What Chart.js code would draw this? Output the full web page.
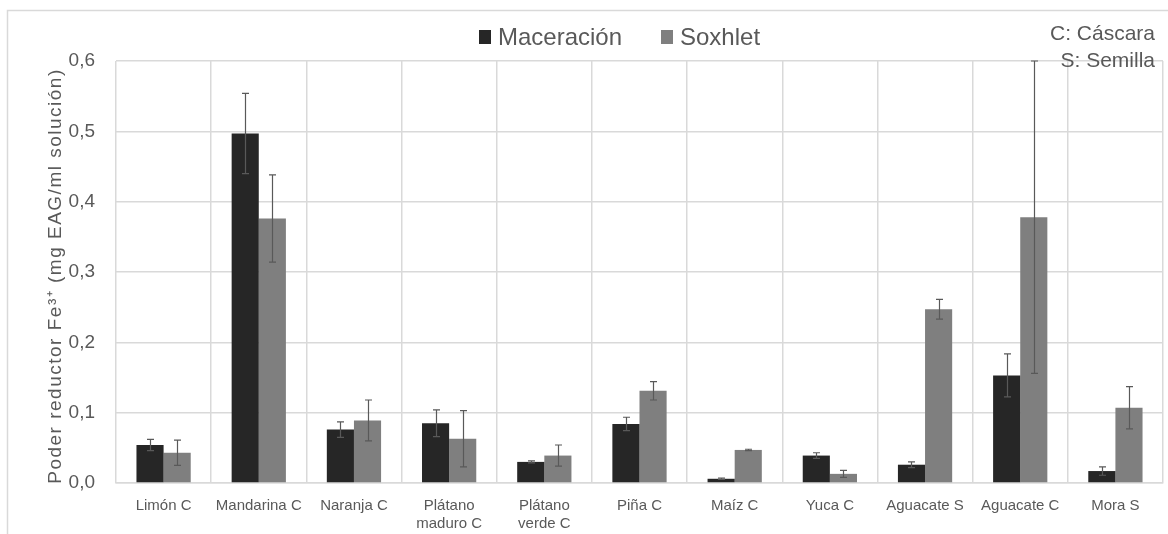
<!DOCTYPE html>
<html>
<head>
<meta charset="utf-8">
<script src="https://cdn.jsdelivr.net/npm/chart.js@4/dist/chart.umd.min.js"></script>
<style>
  html, body { margin: 0; padding: 0; background: #ffffff; }
  #wrap { width: 1168px; height: 534px; position: relative; }
</style>
</head>
<body>
<div id="wrap"><canvas id="chart" width="1168" height="534"></canvas></div>
<script>
// Muestras (C: cáscara, S: semilla)
const categories = ['Limón C', 'Mandarina C', 'Naranja C', ['Plátano', 'maduro C'], ['Plátano', 'verde C'],
  'Piña C', 'Maíz C', 'Yuca C', 'Aguacate S', 'Aguacate C', 'Mora S'];

// Poder reductor Fe3+ (mg EAG/ml solución)
const maceracion = [0.054, 0.497, 0.076, 0.085, 0.030, 0.084, 0.006, 0.039, 0.026, 0.153, 0.017];
const maceracionErr = [0.008, 0.057, 0.011, 0.019, 0.0015, 0.0095, 0.001, 0.004, 0.004, 0.0305, 0.006];
const soxhlet = [0.043, 0.376, 0.089, 0.063, 0.039, 0.131, 0.047, 0.013, 0.247, 0.378, 0.107];
const soxhletErr = [0.018, 0.062, 0.029, 0.040, 0.015, 0.013, 0.001, 0.005, 0.014, 0.222, 0.030];

const yTicks = [0, 0.1, 0.2, 0.3, 0.4, 0.5, 0.6];
const notes = ['C: Cáscara', 'S: Semilla'];

const TEXT = '#595959';
const GRID = '#d9d9d9';
const MAC_COLOR = '#262626';
const SOX_COLOR = '#7f7f7f';

// Outer frame of the chart
const framePlugin = {
  id: 'frame',
  beforeDraw(chart) {
    const ctx = chart.ctx;
    ctx.save();
    ctx.fillStyle = '#ffffff';
    ctx.fillRect(0, 0, chart.width, chart.height);
    ctx.strokeStyle = GRID;
    ctx.lineWidth = 1.5;
    ctx.strokeRect(7.5, 10.5, chart.width + 20, chart.height + 20);
    ctx.restore();
  }
};

// Standard-deviation whiskers on each bar
const errorBarPlugin = {
  id: 'errorBars',
  afterDatasetsDraw(chart) {
    const ctx = chart.ctx;
    const y = chart.scales.y;
    ctx.save();
    ctx.strokeStyle = TEXT;
    ctx.lineWidth = 1.2;
    chart.data.datasets.forEach((ds, i) => {
      const meta = chart.getDatasetMeta(i);
      meta.data.forEach((bar, j) => {
        const v = ds.data[j], e = ds.errors[j];
        const x = Math.round(bar.x) + 0.5;
        const yTop = y.getPixelForValue(v + e);
        const yBot = y.getPixelForValue(v - e);
        const cap = 3.5;
        ctx.beginPath();
        ctx.moveTo(x, yTop); ctx.lineTo(x, yBot);
        ctx.moveTo(x - cap, yTop); ctx.lineTo(x + cap, yTop);
        ctx.moveTo(x - cap, yBot); ctx.lineTo(x + cap, yBot);
        ctx.stroke();
      });
    });
    ctx.restore();
  }
};

// Legend row and sample-type notes
const legendPlugin = {
  id: 'topLegend',
  afterDraw(chart) {
    const ctx = chart.ctx;
    ctx.save();
    ctx.font = '24px "Liberation Sans", Arial, sans-serif';
    ctx.textBaseline = 'alphabetic';
    ctx.textAlign = 'left';
    const items = [
      { x: 479, color: MAC_COLOR, label: chart.data.datasets[0].label },
      { x: 661, color: SOX_COLOR, label: chart.data.datasets[1].label }
    ];
    items.forEach(it => {
      ctx.fillStyle = it.color;
      ctx.fillRect(it.x, 30, 12, 14);
      ctx.fillStyle = TEXT;
      ctx.fillText(it.label, it.x + 19, 45);
    });
    ctx.font = '21px "Liberation Sans", Arial, sans-serif';
    ctx.textAlign = 'right';
    ctx.fillText(notes[0], 1155, 40);
    ctx.fillText(notes[1], 1155, 67);
    ctx.restore();
  }
};

// Slightly spaced axis title lettering, nudged toward the zero line
const titleSpacingPlugin = {
  id: 'titleSpacing',
  afterLayout(chart) {
    const scale = chart.scales.y;
    if (scale && !scale._spacedTitle) {
      const orig = scale.drawTitle.bind(scale);
      scale.drawTitle = function () {
        const ctx = this.ctx;
        ctx.save();
        ctx.letterSpacing = '1.5px';
        ctx.translate(0, 4);
        orig();
        ctx.restore();
      };
      scale._spacedTitle = true;
    }
  }
};

new Chart(document.getElementById('chart'), {
  type: 'bar',
  data: {
    labels: categories,
    datasets: [
      { label: 'Maceración', data: maceracion, errors: maceracionErr, backgroundColor: MAC_COLOR,
        borderColor: MAC_COLOR, borderWidth: 0 },
      { label: 'Soxhlet', data: soxhlet, errors: soxhletErr, backgroundColor: SOX_COLOR,
        borderColor: '#8a8a8a', borderWidth: 0 }
    ]
  },
  options: {
    responsive: false,
    animation: false,
    devicePixelRatio: 1,
    datasets: { bar: { categoryPercentage: 0.57, barPercentage: 1.0 } },
    layout: { padding: { top: 61, right: 5, bottom: 0, left: 0 } },
    plugins: {
      legend: { display: false },
      tooltip: { enabled: false }
    },
    scales: {
      x: {
        grid: { color: GRID, lineWidth: 1.5, drawTicks: false, offset: true },
        border: { color: GRID, width: 1.5 },
        ticks: {
          color: TEXT,
          padding: 14,
          maxRotation: 0,
          autoSkip: false,
          font: { family: '"Liberation Sans", Arial, sans-serif', size: 15, lineHeight: 1.2 }
        },
        afterFit(scale) { scale.height = 51; }
      },
      y: {
        min: 0,
        max: 0.6,
        afterBuildTicks(scale) { scale.ticks = yTicks.map(v => ({ value: v })); },
        grid: { color: GRID, lineWidth: 1.5, drawTicks: false },
        border: { display: false },
        ticks: {
          color: TEXT,
          padding: 21,
          font: { family: '"Liberation Sans", Arial, sans-serif', size: 19 },
          callback: v => Number(v).toFixed(1).replace('.', ',')
        },
        title: {
          display: true,
          text: 'Poder reductor Fe³⁺ (mg EAG/ml solución)',
          color: TEXT,
          padding: { top: 44, bottom: 0 },
          font: { family: '"Liberation Sans", Arial, sans-serif', size: 19 }
        },
        afterFit(scale) { scale.width = 116; }
      }
    }
  },
  plugins: [framePlugin, errorBarPlugin, legendPlugin, titleSpacingPlugin]
});
</script>
</body>
</html>
